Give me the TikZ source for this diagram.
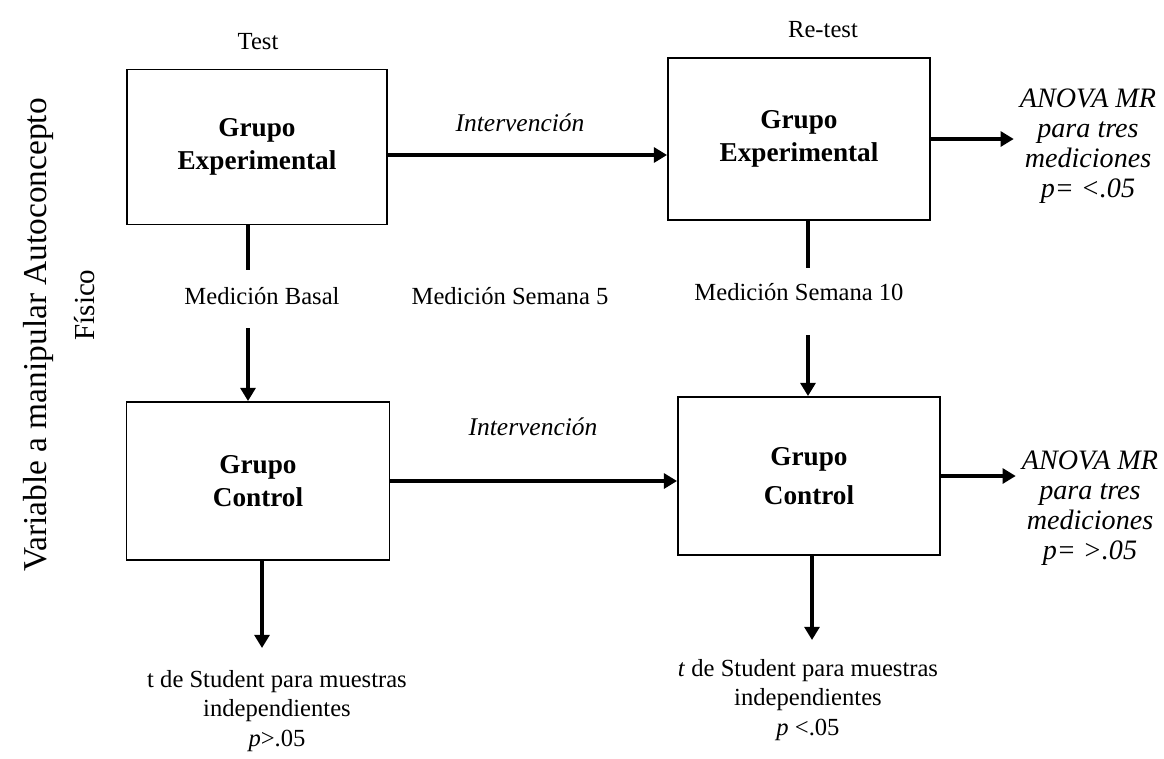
\documentclass[tikz,border=0pt]{standalone}
\usepackage{fontspec}
\setmainfont{Liberation Serif}
\usetikzlibrary{arrows.meta}

\begin{document}
\begin{tikzpicture} [x=0.02cm, y=-0.02cm,
    caja/.style={draw, line width=1.1pt, align=center, font=\fontsize{15.5}{19}\selectfont\bfseries},
    flecha/.style={line width=2pt, -{Triangle[width=8.5pt,length=7.5pt]}},
    linea/.style={line width=2pt},
    texto/.style={align=center, font=\fontsize{14}{17}\selectfont},
    cursiva/.style={align=center, font=\fontsize{14.5}{17}\selectfont\itshape},
    anova/.style={align=center, font=\fontsize{16}{17}\selectfont\itshape}]
    \useasboundingbox (0,0) rectangle (1164,758);
    \node [caja, minimum width=5.2cm, minimum height=3.1cm] (ge1) at (257,147) {Grupo\\Experimental};
    \node [caja, minimum width=5.24cm, minimum height=3.24cm] (ge2) at (799,139) {Grupo\\Experimental};
    \node [caja, minimum width=5.26cm, minimum height=3.16cm] (gc1) at (258,481) {Grupo\\Control};
    \node [caja, minimum width=5.24cm, minimum height=3.16cm] (gc2) at (809,476) {Grupo\\[3pt]Control};
    \node [texto] (test) at (258,42) {Test};
    \node [texto] (retest) at (823,30) {Re-test};
    \node [cursiva] (intv1) at (520,123) {Intervención};
    \node [cursiva] (intv2) at (533,427) {Intervención};
    \node [texto] (basal) at (262,296) {Medición Basal};
    \node [texto] (sem5) at (510,296) {Medición Semana 5};
    \node [texto] (sem10) at (799,292) {Medición Semana 10};
    \node [anova] (anova1) at (1088,146) {ANOVA MR\\para tres\\mediciones\\p= <.05};
    \node [anova] (anova2) at (1090,508) {ANOVA MR\\para tres\\mediciones\\p= >.05};
    \node [texto] (tst1) at (277,711) {t de Student para muestras\\independientes\\\textit{p}>.05};
    \node [texto] (tst2) at (808,700) {\textit{t} de Student para muestras\\independientes\\\textit{p} <.05};
    \node [texto, rotate=90, font=\fontsize{19}{21}\selectfont] (variable) at (38,335) {Variable a manipular Autoconcepto};
    \node [texto, rotate=90, font=\fontsize{16.5}{19}\selectfont] (fisico) at (85,305) {Físico};
    \draw [flecha] ([yshift=-0.16cm]ge1.east) -- ([yshift=-0.16cm]ge1.east -| ge2.west);
    \draw [flecha] (gc1.east) -- (gc1.east -| gc2.west);
    \draw [flecha] (ge2.east) -- (ge2.east -| anova1.west);
    \draw [flecha] (gc2.east) -- (gc2.east -| anova2.west);
    \coordinate (b1) at (248,270);
    \coordinate (b2) at (248,328);
    \draw [linea] (ge1.south -| b1) -- (b1);
    \draw [flecha] (b2) -- (gc1.north -| b2);
    \coordinate (s1) at (808,268);
    \coordinate (s2) at (808,335);
    \draw [linea] (ge2.south -| s1) -- (s1);
    \draw [flecha] (s2) -- (gc2.north -| s2);
    \coordinate (t1) at (262,648);
    \draw [flecha] (gc1.south -| t1) -- (t1);
    \coordinate (t2) at (812,640);
    \draw [flecha] (gc2.south -| t2) -- (t2);
  \end{tikzpicture}
\end{document}
